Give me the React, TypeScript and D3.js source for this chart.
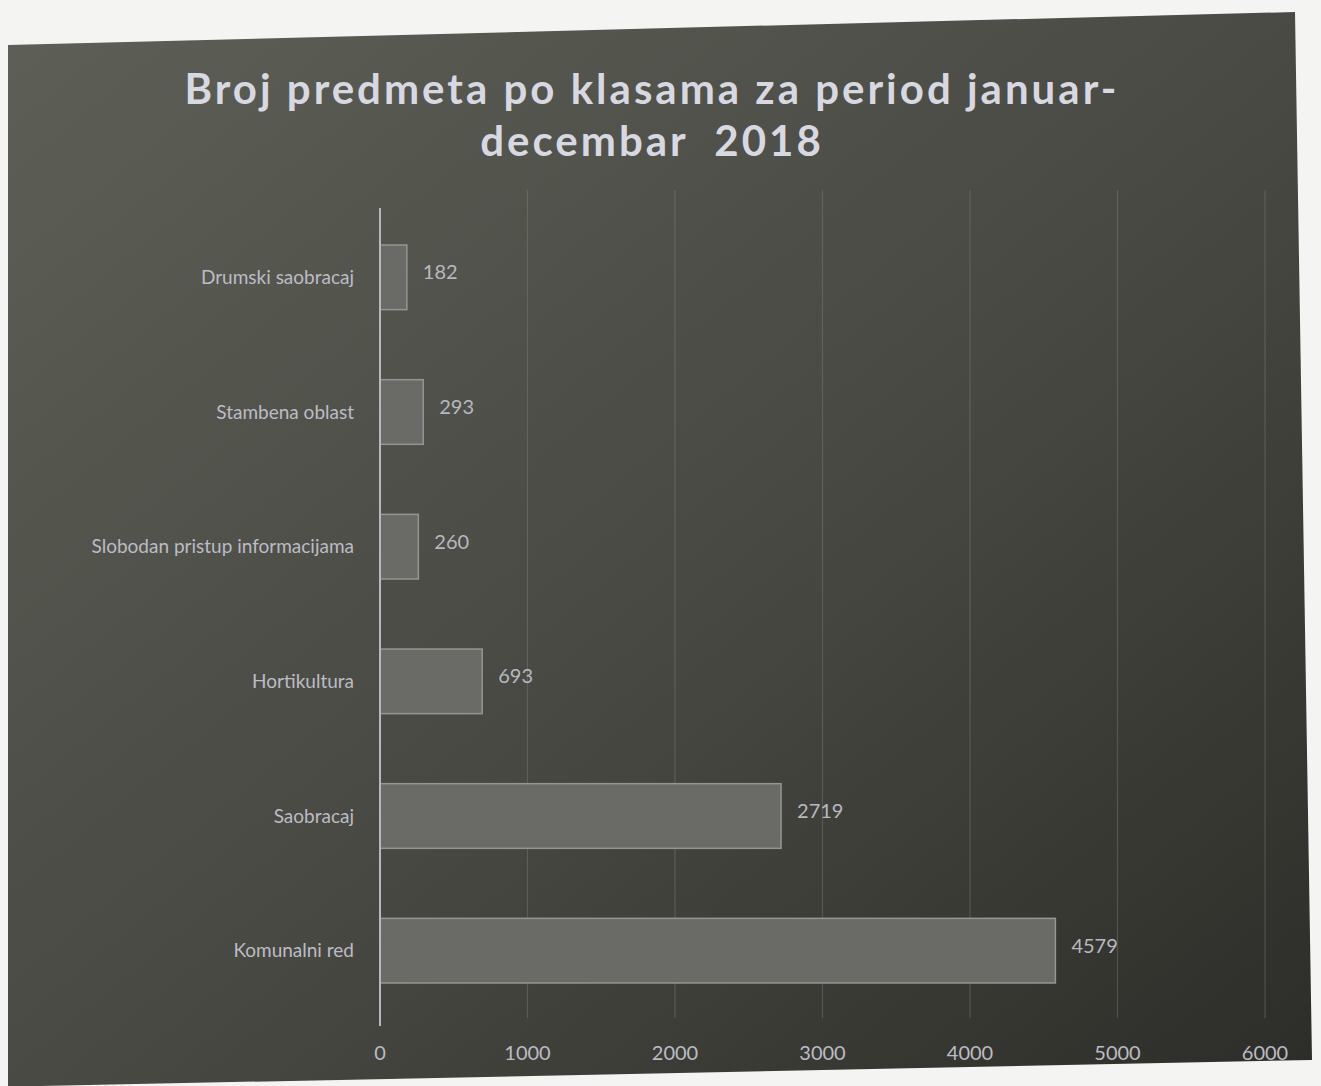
import { useEffect, useRef } from "react";
import * as d3 from "d3";

const categories = [
  "Drumski saobracaj",
  "Stambena oblast",
  "Slobodan pristup informacijama",
  "Hortikultura",
  "Saobracaj",
  "Komunalni red",
];
const values = [182, 293, 260, 693, 2719, 4579];
const xTicks = [0, 1000, 2000, 3000, 4000, 5000, 6000];
const titleLines = ["Broj predmeta po klasama za period januar-", "decembar  2018"];

const App = () => {
  const svgRef = useRef<SVGSVGElement>(null);

  useEffect(() => {
    const width = 1321;
    const height = 1086;
    const svg = d3.select(svgRef.current).attr("width", width).attr("height", height);
    svg.selectAll("*").remove();

    const margin = { top: 210, right: 56, bottom: 68, left: 380 };
    const w = width - margin.left - margin.right;
    const h = height - margin.top - margin.bottom;

    const defs = svg.append("defs");
    const grad = defs
      .append("linearGradient")
      .attr("id", "bg")
      .attr("x1", "0%")
      .attr("y1", "0%")
      .attr("x2", "100%")
      .attr("y2", "100%");
    grad.append("stop").attr("offset", "0%").attr("stop-color", "#5e5f57");
    grad.append("stop").attr("offset", "55%").attr("stop-color", "#474841");
    grad.append("stop").attr("offset", "100%").attr("stop-color", "#2c2d28");

    // white page with the dark chart area (photo slightly skewed)
    svg.append("rect").attr("width", width).attr("height", height).attr("fill", "#f4f4f2");
    svg
      .append("polygon")
      .attr("points", "8,45 1295,12 1312,1060 40,1086 8,1086")
      .attr("fill", "url(#bg)");

    // title
    svg
      .append("g")
      .selectAll("text")
      .data(titleLines)
      .join("text")
      .attr("x", 652)
      .attr("y", (d, i) => 104 + i * 52)
      .attr("text-anchor", "middle")
      .attr("font-family", "Lato, sans-serif")
      .attr("font-weight", "bold")
      .attr("font-size", 42)
      .attr("letter-spacing", 3)
      .attr("fill", "#d8d8e2")
      .style("white-space", "pre")
      .text((d) => d);

    const g = svg.append("g").attr("transform", `translate(${margin.left},${margin.top})`);

    const x = d3.scaleLinear().domain([0, 6000]).range([0, w]);
    const y = d3.scaleBand().domain(categories).range([0, h]).paddingInner(0.52).paddingOuter(0.26);

    // gridlines
    g.append("g")
      .selectAll("line")
      .data(xTicks.slice(1))
      .join("line")
      .attr("x1", (d) => x(d))
      .attr("x2", (d) => x(d))
      .attr("y1", -20)
      .attr("y2", h)
      .attr("stroke", "#8c8c88")
      .attr("stroke-opacity", 0.35)
      .attr("stroke-width", 1.2);

    // bars
    g.append("g")
      .selectAll("rect")
      .data(values)
      .join("rect")
      .attr("x", 0)
      .attr("y", (d, i) => y(categories[i])!)
      .attr("width", (d) => x(d))
      .attr("height", y.bandwidth())
      .attr("fill", "#6a6b67")
      .attr("stroke", "#959593")
      .attr("stroke-width", 1.5);

    // value labels
    g.append("g")
      .selectAll("text")
      .data(values)
      .join("text")
      .attr("x", (d) => x(d) + 16)
      .attr("y", (d, i) => y(categories[i])! + y.bandwidth() / 2)
      .attr("dy", "0.1em")
      .attr("font-family", "Lato, sans-serif")
      .attr("font-size", 20)
      .attr("fill", "#b8b8c0")
      .text((d) => d);

    // y axis line
    g.append("line")
      .attr("x1", 0)
      .attr("x2", 0)
      .attr("y1", -2)
      .attr("y2", h + 8)
      .attr("stroke", "#b8b8bc")
      .attr("stroke-width", 2);

    // category labels
    g.append("g")
      .selectAll("text")
      .data(categories)
      .join("text")
      .attr("x", -26)
      .attr("y", (d) => y(d)! + y.bandwidth() / 2)
      .attr("dy", "0.35em")
      .attr("text-anchor", "end")
      .attr("font-family", "Lato, sans-serif")
      .attr("font-size", 19)
      .attr("fill", "#bcbcc4")
      .text((d) => d);

    // x tick labels
    g.append("g")
      .selectAll("text")
      .data(xTicks)
      .join("text")
      .attr("x", (d) => x(d))
      .attr("y", h + 42)
      .attr("text-anchor", "middle")
      .attr("font-family", "Lato, sans-serif")
      .attr("font-size", 20)
      .attr("fill", "#bcbcc4")
      .text((d) => d);
  }, []);

  return <svg ref={svgRef} style={{ display: "block", position: "absolute", left: 0, top: 0 }}></svg>;
};

export default App;
